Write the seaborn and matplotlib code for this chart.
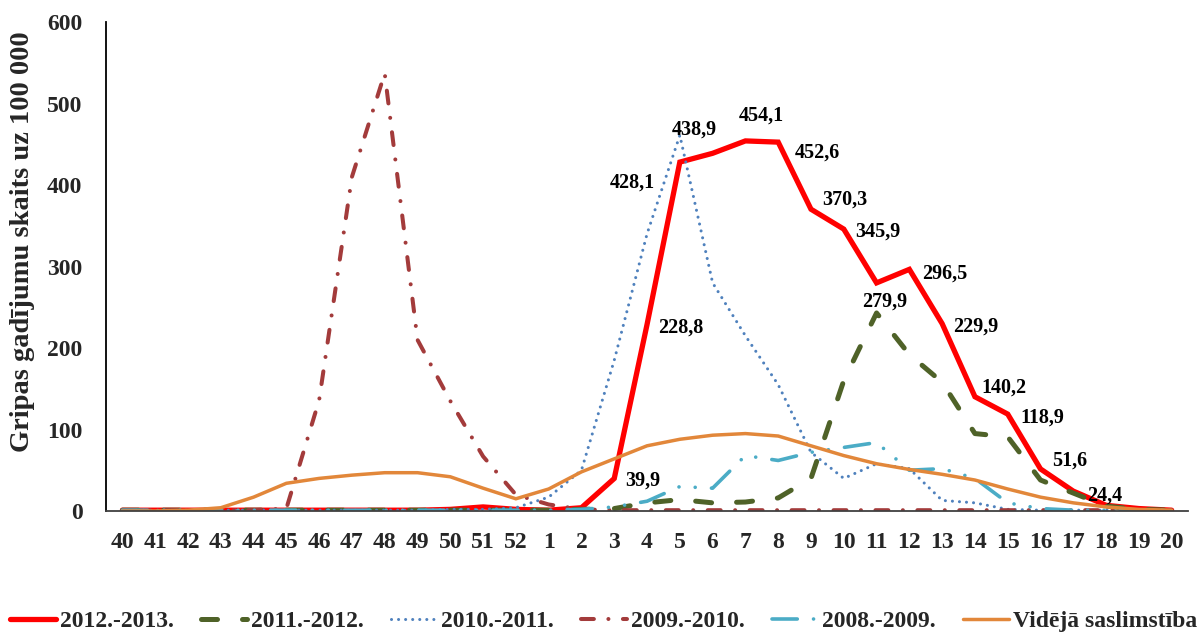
import matplotlib
matplotlib.use("Agg")
import matplotlib.pyplot as plt
import seaborn as sns
import pandas as pd

weeks = ['40', '41', '42', '43', '44', '45', '46', '47', '48', '49', '50', '51', '52',
         '1', '2', '3', '4', '5', '6', '7', '8', '9', '10', '11', '12', '13', '14',
         '15', '16', '17', '18', '19', '20']

s2012 = [1, 1, 1, 1, 1, 1, 1, 1, 1, 1, 2, 5, 2, 1, 4, 39.9, 228.8, 428.1, 438.9, 454.1,
         452.6, 370.3, 345.9, 279.9, 296.5, 229.9, 140.2, 118.9, 51.6, 24.4, 7, 3, 1]
s2011 = [1, 1, 1, 1, 1, 1, 1, 1, 1, 1, 1, 1, 1, 1, 2, 3, 10, 14, 10, 11, 16, 40, 160,
         243, 192, 158, 95, 91, 38, 22, 6, 2, 1]
s2010 = [1, 1, 1, 1, 1, 1, 1, 1, 1, 1, 2, 2, 4, 17, 50, 185, 340, 461, 280, 215, 155,
         72, 40, 58, 52, 13, 10, 2, 1, 1, 1, 1, 1]
s2009 = [1, 1, 1, 1, 1, 3, 136, 410, 537, 210, 135, 67, 20, 8, 2, 1, 1, 1, 1, 1, 1, 1,
         1, 1, 1, 1, 1, 1, 1, 1, 1, 1, 1]
s2008 = [1, 1, 1, 1, 1, 1, 1, 1, 1, 1, 1, 1, 1, 1, 2, 5, 12, 30, 28, 68, 62, 72, 78,
         84, 50, 52, 40, 10, 3, 1, 1, 1, 1]
avg = [0, 0, 1, 4, 17, 34, 40, 44, 47, 47, 42, 28, 15, 27, 48, 64, 80, 88, 93, 95, 92,
       80, 68, 58, 51, 45, 38, 27, 17, 10, 5, 2, 1]

series_names = ['2012.-2013.', '2011.-2012.', '2010.-2011.', '2009.-2010.', '2008.-2009.',
                'Vidējā saslimstība']
series_values = [s2012, s2011, s2010, s2009, s2008, avg]

# red labels: week -> label, with offsets in pixels
label_weeks = ['3', '4', '5', '6', '7', '8', '9', '10', '11', '12', '13', '14', '15', '16', '17']
label_offsets = [(29, -2), (34, -3), (-48, -20), (-18, 24), (16, 25), (39, -10), (34, 10),
                 (34, -3), (8, -19), (35, -4), (34, -3), (29, 9), (35, -3), (29, 8), (31, -4)]

colors = ['#FF0000', '#4F6228', '#4F81BD', '#A33B3B', '#4BACC6', '#E2873A']
widths = [3.8, 3.6, 2.2, 2.9, 2.6, 2.5]
styles = ['-', (0, (3.2, 5.0)), (0, (0.01, 2.3)), (0, (3.2, 3.6, 0.01, 3.6)),
          (0, (7, 4.5, 0.01, 4.5, 0.01, 4.5)), '-']

sns.set_style('white')
plt.rcParams['font.family'] = ['Liberation Serif', 'DejaVu Serif']
plt.rcParams['font.weight'] = 'bold'

fig = plt.figure(figsize=(12.02, 6.34), dpi=100)
ax = fig.add_axes([0.0882, 0.194, 0.9002, 0.7713])

pos = list(range(len(weeks)))
for name, vals, c, lw, ls in zip(series_names, series_values, colors, widths, styles):
    df = pd.DataFrame({'x': pos, 'y': vals})
    sns.lineplot(data=df, x='x', y='y', ax=ax, color=c, linewidth=lw, linestyle=ls,
                 label=name, dash_capstyle='round', solid_capstyle='round',
                 solid_joinstyle='miter')

for w, off in zip(label_weeks, label_offsets):
    i = weeks.index(w)
    v = s2012[i]
    ax.annotate(f'{v:.1f}'.replace('.', ','), (i, v), xytext=off, textcoords='offset pixels',
                ha='center', va='center', fontsize=14.5, fontweight='bold', color='black')

ax.set_xlim(-0.5, len(weeks) - 0.5)
ax.set_ylim(0, 600)
ax.set_xticks(pos)
ax.set_xticklabels(weeks)
ax.set_yticks(range(0, 601, 100))
ax.tick_params(axis='both', length=0, labelsize=17)
ax.tick_params(axis='x', pad=15)
ax.tick_params(axis='y', pad=17)
for lab in ax.get_xticklabels() + ax.get_yticklabels():
    lab.set_fontweight('bold')

ax.set_xlabel('')
ax.set_ylabel('Gripas gadījumu skaits uz 100 000', fontsize=20.5, fontweight='bold')
ax.yaxis.set_label_coords(-0.066, 0.55)

for s in ['top', 'right']:
    ax.spines[s].set_visible(False)
ax.spines['left'].set_color('black')
ax.spines['left'].set_linewidth(1.3)
ax.spines['bottom'].set_color('#404040')
ax.spines['bottom'].set_linewidth(1.3)

ax.get_legend().remove()
handles, labels = ax.get_legend_handles_labels()
fig.legend(handles, labels, loc='center', bbox_to_anchor=(0.502, 0.02), ncol=6,
           frameon=False, handlelength=1.95, handletextpad=0.17,
           columnspacing=1.15, prop={'weight': 'bold', 'size': 17})

fig.savefig('out.png', dpi=100)
